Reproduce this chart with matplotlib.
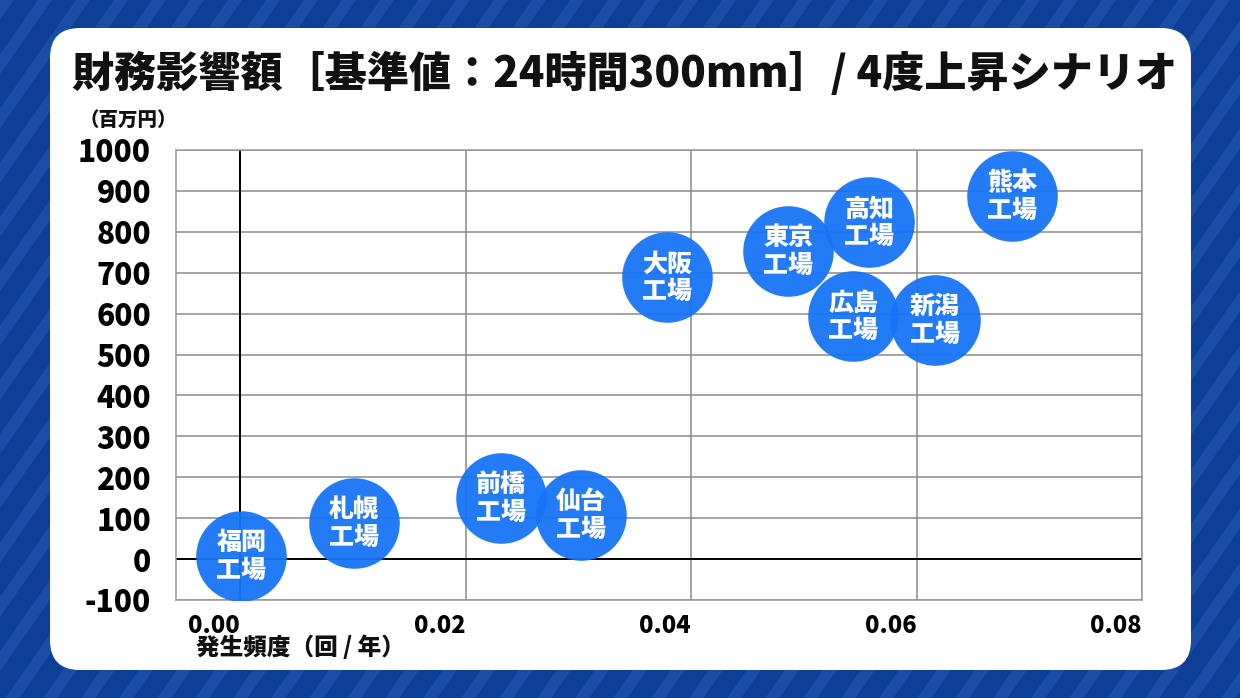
import numpy as np
import matplotlib.pyplot as plt
from matplotlib.patches import FancyBboxPatch, Polygon

plt.rcParams["font.family"] = ["Noto Sans CJK JP", "DejaVu Sans"]
plt.rcParams["axes.unicode_minus"] = False

# データ（発生頻度 回/年、財務影響額 百万円）
plants = ["福岡\n工場", "札幌\n工場", "前橋\n工場", "仙台\n工場", "大阪\n工場",
          "東京\n工場", "高知\n工場", "広島\n工場", "新潟\n工場", "熊本\n工場"]
freq = [0.0001, 0.0101, 0.0231, 0.0302, 0.0379, 0.0486, 0.0558, 0.0544, 0.0616, 0.0685]
impact = [7, 88, 150, 108, 689, 753, 824, 593, 585, 887]

x_ticks = [0.00, 0.02, 0.04, 0.06, 0.08]
y_ticks = list(range(-100, 1001, 100))

title = "財務影響額［基準値：24時間300mm］/ 4度上昇シナリオ"

W, H = 1240, 698
fig = plt.figure(figsize=(W / 100, H / 100), dpi=100)
fig.patch.set_facecolor("#0e3f97")

# 背景（斜めストライプ + 白パネル）
bg = fig.add_axes([0, 0, 1, 1], zorder=0)
bg.set_xlim(0, W)
bg.set_ylim(H, 0)
bg.axis("off")
period, width = 38, 14
dx = H / np.tan(np.radians(55))
for x0 in np.arange(-dx - period, W + period, period):
    bg.add_patch(Polygon([(x0, H), (x0 + width, H), (x0 + width + dx, 0), (x0 + dx, 0)],
                         closed=True, color="#1a4ea6", lw=0))
bg.add_patch(FancyBboxPatch((50, 28), 1141, 642, boxstyle="round,pad=0,rounding_size=30",
                            fc="white", ec="none"))
bg.text(72, 74, title, fontsize=30.3, fontweight=900, color="#111111", va="center", ha="left")
bg.text(80, 120, "（百万円）", fontsize=14, fontweight=900, color="#111111", va="center")
bg.text(196, 648, "発生頻度（回 / 年）", fontsize=17, fontweight=900, color="#111111", va="center")

# 散布図
ax = fig.add_axes([176 / W, 1 - 600 / H, (1142 - 176) / W, (600 - 150) / H], zorder=1)
ax.set_xlim(-0.0057, 0.08)
ax.set_ylim(-100, 1000)
ax.set_xticks(x_ticks)
ax.set_xticklabels([f"{v:.2f}" for v in x_ticks], ha="right")
ax.set_yticks(y_ticks)
ax.tick_params(axis="x", length=0, pad=10, labelsize=17)
ax.tick_params(axis="y", length=0, pad=18, labelsize=21.5)
for lab in ax.get_xticklabels() + ax.get_yticklabels():
    lab.set_fontweight(900)
ax.grid(True, color="#8a8a8a", lw=1.1)
ax.set_axisbelow(True)
for sp in ax.spines.values():
    sp.set_color("#9a9a9a")
    sp.set_linewidth(1.1)
ax.axhline(0, color="black", lw=1.4, zorder=1)
ax.axvline(0, color="black", lw=1.4, zorder=1)

ax.scatter(freq, impact, s=4250, color="#1774f5", alpha=0.95, lw=0, zorder=3)
for x, y, name in zip(freq, impact, plants):
    ax.text(x, y, name, fontsize=18, fontweight=900, color="white",
            ha="center", va="center", linespacing=1.08, zorder=4)

fig.savefig("out.png", dpi=100, facecolor=fig.get_facecolor())
